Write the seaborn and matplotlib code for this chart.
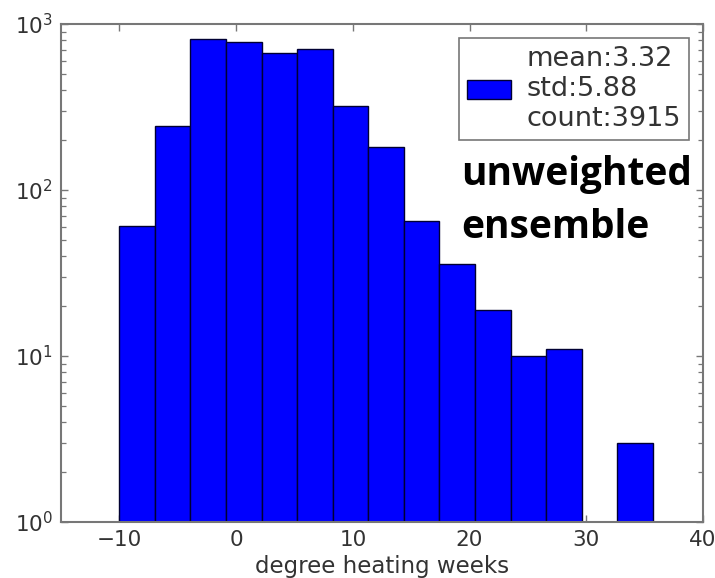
import numpy as np
import pandas as pd
import matplotlib
matplotlib.use("Agg")
import matplotlib.pyplot as plt
import seaborn as sns
from matplotlib.patches import Patch

# 直方图数据
bin_start = -10.0
bin_end = 35.7
n_bins = 15
counts = [61, 243, 815, 778, 666, 704, 322, 182, 65, 36, 19, 10, 11, 0, 3]
stats_text = ["mean:3.32", "std:5.88", "count:3915"]
x_ticks = [-10, 0, 10, 20, 30, 40]
x_label = "degree heating weeks"
note_text = "unweighted\nensemble"

edges = np.linspace(bin_start, bin_end, n_bins + 1)
centers = (edges[:-1] + edges[1:]) / 2
df = pd.DataFrame({"dhw": centers, "n": counts})

sns.set_style("ticks")
plt.rcParams['font.family'] = ['DejaVu Sans']

W, H = 715, 578
fig = plt.figure(figsize=(W / 100, H / 100), dpi=100)
ax = fig.add_axes([61 / W, 1 - 522 / H, (703 - 61) / W, (522 - 24) / H])

# 绘制直方图
sns.histplot(data=df, x="dhw", weights="n", bins=n_bins,
             binrange=(bin_start, bin_end),
             color="#0000ff", alpha=1, edgecolor="#000033",
             linewidth=1.0, ax=ax)
ax.set_yscale("log")
ax.set_ylim(1, 1000)
ax.set_xlim(-15, 40)
ax.set_xticks(x_ticks)
ax.set_ylabel("")
ax.set_xlabel(x_label, fontsize=16.5, color="#333333", labelpad=3)

# 坐标轴样式
for s in ax.spines.values():
    s.set_color("#777777")
    s.set_linewidth(1.5)
ax.tick_params(which="both", direction="in", top=True, right=True,
               colors="#777777", labelcolor="#333333")
ax.tick_params(which="major", length=5, width=1, labelsize=15.5, pad=6)
ax.tick_params(which="minor", length=3.5, width=0.9)

# 图例
handle = Patch(facecolor="#0000ff", edgecolor="#000033")
leg = ax.legend(handles=[handle], labels=["\n".join(stats_text)],
                loc="upper right", fontsize=19.5, fancybox=False,
                framealpha=1, edgecolor="#777777", handlelength=1.6,
                handletextpad=0.6, borderpad=0.3, borderaxespad=0.5,
                labelcolor="#333333")
leg.get_frame().set_linewidth(1.2)

# 注释文字
fig.text(461 / W, 1 - 155 / H, note_text, ha="left", va="top",
         fontsize=28, fontweight="bold", family="Open Sans",
         linespacing=1.45, color="black")

fig.savefig("out.png", dpi=100)
